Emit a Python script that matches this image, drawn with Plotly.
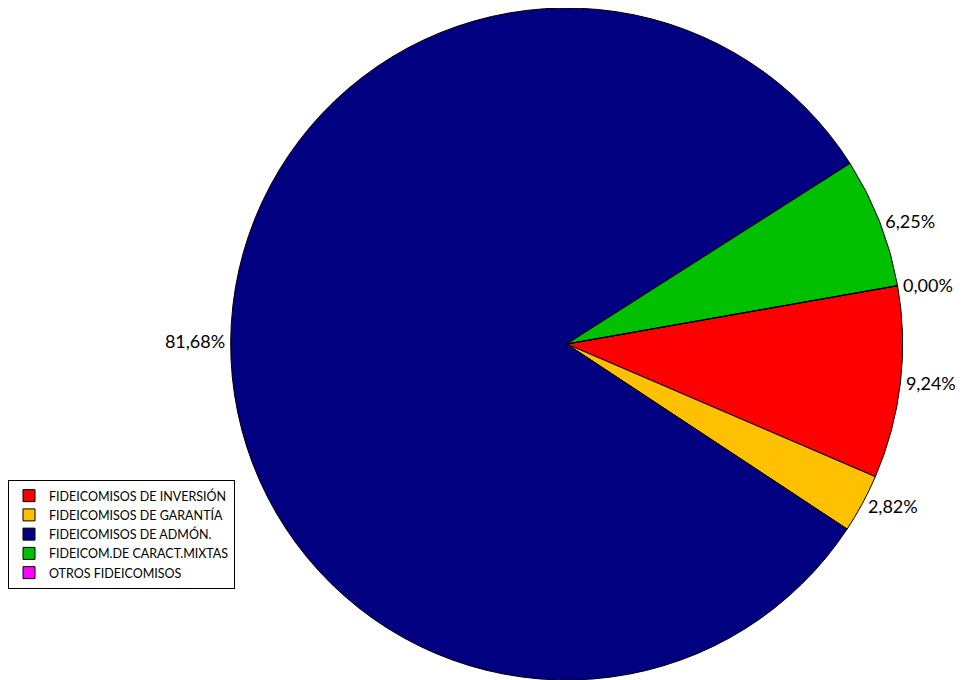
import plotly.graph_objects as go

categorias = ['FIDEICOMISOS DE INVERSIÓN', 'FIDEICOMISOS DE GARANTÍA',
              'FIDEICOMISOS DE ADMÓN.', 'FIDEICOM.DE CARACT.MIXTAS',
              'OTROS FIDEICOMISOS']
porcentajes = [9.24, 2.82, 81.68, 6.25, 0.00]
colores = ['#FF0000', '#FFC000', '#000080', '#00C000', '#FF00FF']

etiquetas = [f'{p:.2f}%'.replace('.', ',') for p in porcentajes]

fig = go.Figure()
fig.add_trace(go.Pie(labels=categorias,
                     values=porcentajes,
                     text=etiquetas,
                     texttemplate='%{text}',
                     textposition='outside',
                     automargin=False,
                     textfont=dict(family='Lato', size=18, color='black'),
                     marker=dict(colors=colores, line=dict(color='black', width=1)),
                     sort=False,
                     direction='clockwise',
                     rotation=80,
                     hole=0,
                     domain=dict(x=[0.225, 0.945], y=[0.0, 1.0]),
                     showlegend=True))

fig.update_layout(width=955, height=672,
                  margin=dict(l=0, r=0, t=0, b=0),
                  paper_bgcolor='white',
                  plot_bgcolor='white',
                  legend=dict(x=0, y=1-472/672, xanchor='left', yanchor='top',
                              bgcolor='white', bordercolor='black', borderwidth=1,
                              font=dict(family='Lato', size=12.5, color='black'),
                              tracegroupgap=0, itemwidth=30))

fig.write_html('out.html')
